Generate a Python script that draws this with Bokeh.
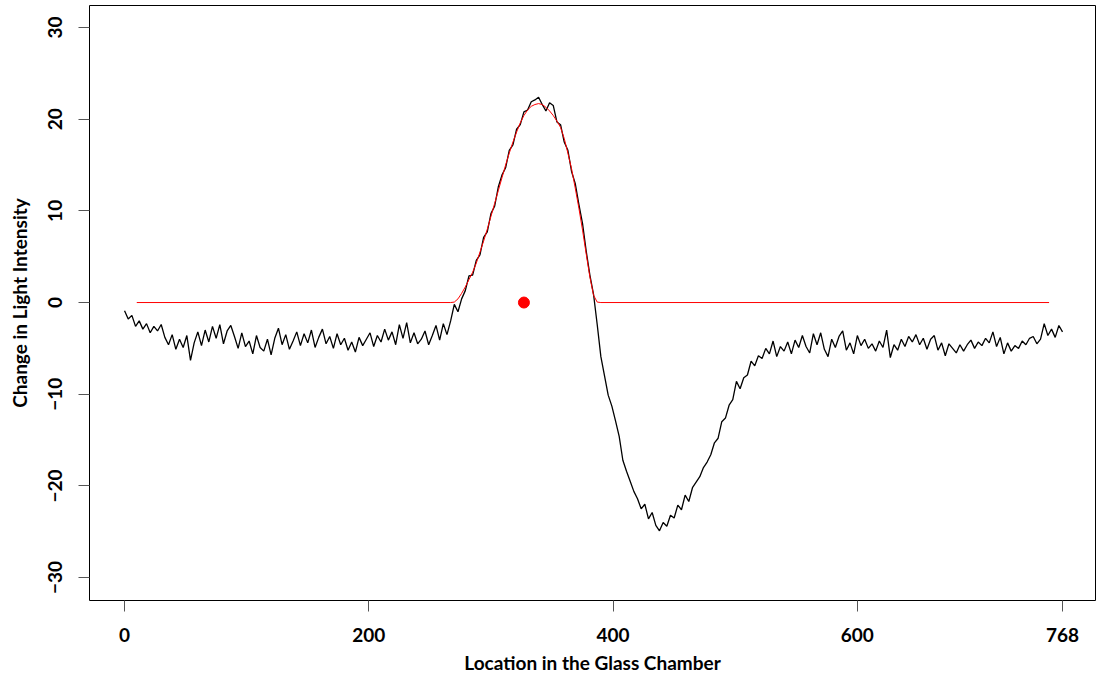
from bokeh.plotting import figure
from bokeh.models import FixedTicker, Range1d
from bokeh.embed import file_html
from bokeh.resources import INLINE

# ---- data ----
location = list(range(0, 769, 3))
intensity = [
    -0.9, -1.8, -1.4, -2.6, -2.0, -2.9, -2.3, -3.3, -2.6, -3.1,
    -2.4, -3.8, -4.6, -3.5, -5.1, -4.0, -4.9, -3.6, -6.3, -4.4,
    -3.2, -4.7, -3.0, -4.3, -2.6, -3.9, -2.4, -4.5, -3.1, -2.5,
    -3.7, -5.0, -3.3, -4.8, -4.2, -5.6, -3.6, -4.9, -5.3, -4.0,
    -5.7, -3.9, -2.8, -4.6, -3.5, -5.1, -4.2, -3.2, -4.7, -3.4,
    -4.4, -3.0, -4.9, -3.8, -2.9, -4.5, -3.7, -5.0, -3.4, -4.6,
    -3.9, -5.2, -4.3, -5.4, -3.8, -4.7, -4.0, -3.3, -4.8, -3.6,
    -4.3, -2.9, -4.1, -3.2, -4.6, -2.4, -3.9, -2.2, -4.4, -3.3,
    -4.5, -4.0, -3.1, -4.6, -3.6, -2.5, -4.1, -2.3, -3.5, -2.0,
    -0.2, -1.0, 0.4, 1.3, 2.9, 3.0, 4.6, 5.2, 7.1, 7.7,
    9.7, 10.5, 12.6, 13.9, 14.7, 16.6, 17.2, 18.9, 19.4, 20.8,
    21.0, 21.9, 22.1, 22.4, 21.6, 20.9, 21.8, 21.5, 19.7, 19.4,
    17.5, 16.6, 14.3, 13.0, 10.7, 8.6, 5.6, 3.0, 0.9, -2.4,
    -5.9, -8.0, -10.1, -11.3, -12.9, -14.6, -17.2, -18.4, -19.5, -20.6,
    -21.4, -22.5, -22.0, -23.6, -22.9, -24.3, -24.9, -24.0, -24.4, -23.2,
    -23.5, -22.1, -22.6, -21.0, -21.7, -20.2, -19.6, -19.0, -18.0, -17.4,
    -16.6, -15.3, -14.8, -13.0, -12.6, -11.2, -10.6, -8.6, -9.4, -8.2,
    -7.9, -6.4, -6.9, -5.8, -6.1, -5.0, -5.6, -4.2, -5.9, -4.8,
    -5.3, -4.3, -5.6, -4.1, -4.9, -3.6, -4.8, -5.5, -3.4, -4.6,
    -3.3, -5.1, -5.9, -4.0, -4.9, -3.7, -3.1, -5.2, -4.4, -5.6,
    -3.6, -4.7, -4.0, -5.0, -4.5, -5.3, -4.2, -4.9, -3.0, -6.0,
    -4.6, -5.2, -4.0, -4.8, -3.7, -4.3, -3.5, -4.6, -3.9, -5.1,
    -4.0, -3.6, -5.2, -4.4, -5.8, -4.5, -5.0, -5.5, -4.6, -5.3,
    -4.6, -4.1, -5.0, -4.3, -4.7, -3.9, -4.4, -3.2, -4.8, -3.8,
    -5.6, -4.4, -5.3, -4.7, -5.0, -4.2, -4.6, -3.9, -3.7, -4.5,
    -4.0, -2.3, -3.6, -2.9, -3.8, -2.5, -3.2,
]

fit_x = [10, 267, 270, 273, 276, 279, 282, 285, 288, 291, 294, 297,
         300, 303, 306, 309, 312, 315, 318, 321, 324, 327, 330, 333,
         336, 339, 342, 345, 348, 351, 354, 357, 360, 363, 366, 369,
         372, 375, 378, 381, 384, 387, 390, 757]
fit_y = [0.0, 0.0, 0.05, 0.4, 1.0, 1.7, 2.5, 3.3, 4.3, 5.5, 6.7, 8.0,
         9.4, 10.8, 12.2, 13.6, 15.0, 16.3, 17.5, 18.6, 19.6, 20.4, 21.0, 21.4,
         21.6, 21.7, 21.6, 21.3, 20.9, 20.4, 19.8, 19.1, 17.9, 16.3, 14.6, 12.5,
         10.3, 7.9, 5.3, 2.8, 0.8, 0.05, 0.0, 0.0]

center_x = [327]
center_y = [0]

x_ticks = [0, 200, 400, 600, 768]
y_ticks = [-30, -20, -10, 0, 10, 20, 30]
y_tick_labels = {-30: "\u221230", -20: "\u221220", -10: "\u221210", 0: "0",
                 10: "10", 20: "20", 30: "30"}

FONT = "Lato"

p = figure(width=1096, height=679, output_backend="svg", toolbar_location=None,
           x_range=Range1d(-28.7, 795), y_range=Range1d(-32.5, 32.4),
           min_border_left=89, min_border_right=1, min_border_top=5, min_border_bottom=79)
p.background_fill_color = "white"
p.border_fill_color = "white"
p.outline_line_color = "black"
p.outline_line_width = 1
p.xgrid.visible = False
p.ygrid.visible = False

p.line(location, intensity, line_color="black", line_width=1.3)
p.line(fit_x, fit_y, line_color="#ff0000", line_width=1.0)
p.scatter(center_x, center_y, size=11, fill_color="#ff0000", line_color="#ff0000")

for ax in (p.xaxis[0], p.yaxis[0]):
    ax.axis_line_color = None
    ax.major_tick_out = 11
    ax.major_tick_in = 0
    ax.major_tick_line_color = "#555555"
    ax.minor_tick_line_color = None
    ax.major_label_text_font = FONT
    ax.major_label_text_font_style = "bold"
    ax.major_label_text_font_size = "19px"
    ax.major_label_text_color = "black"
    ax.axis_label_text_font = FONT
    ax.axis_label_text_font_style = "bold"
    ax.axis_label_text_font_size = "19px"
    ax.axis_label_text_color = "black"

p.xaxis[0].major_label_standoff = 16
p.xaxis[0].axis_label_standoff = 6
p.yaxis[0].major_label_standoff = 16
p.yaxis[0].axis_label_standoff = 15

p.xaxis[0].ticker = FixedTicker(ticks=x_ticks)
p.yaxis[0].ticker = FixedTicker(ticks=y_ticks)
p.yaxis[0].major_label_overrides = y_tick_labels
p.yaxis[0].major_label_orientation = "vertical"
p.xaxis[0].axis_label = "Location in the Glass Chamber"
p.yaxis[0].axis_label = "Change in Light Intensity"

open("out.html", "w").write(file_html(p, INLINE))
